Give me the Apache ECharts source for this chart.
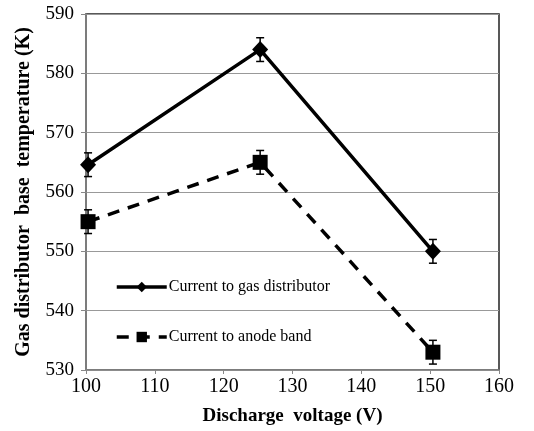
<!DOCTYPE html>
<html>
<head>
<meta charset="utf-8">
<script src="https://cdn.jsdelivr.net/npm/echarts@6/dist/echarts.min.js"></script>
<style>html,body{margin:0;padding:0;background:#fff}#c{width:534px;height:431px}</style>
</head>
<body>
<div id="c"></div>
<script>
var voltages = [100.3, 125.3, 150.4];
var gasDistributor = [564.6, 584.0, 550.0];
var gasDistributorErr = [2.0, 2.0, 2.0];
var anodeBand = [555.0, 565.0, 533.0];
var anodeBandErr = [2.0, 2.0, 2.0];
var xTicks = [100, 110, 120, 130, 140, 150, 160];
var yTicks = [530, 540, 550, 560, 570, 580, 590];
var seriesNames = ['Current to gas distributor', 'Current to anode band'];

var font = 'Liberation Serif';

function pairs(xs, ys) { return xs.map(function (x, i) { return [x, ys[i]]; }); }
function errData(xs, ys, es) { return xs.map(function (x, i) { return [x, ys[i] - es[i], ys[i] + es[i]]; }); }

function errRender(params, api) {
  var x = api.value(0);
  var lo = api.coord([x, api.value(1)]);
  var hi = api.coord([x, api.value(2)]);
  var w = 4;
  var st = { stroke: '#000', lineWidth: 1.5 };
  return {
    type: 'group',
    children: [
      { type: 'line', shape: { x1: lo[0], y1: lo[1], x2: hi[0], y2: hi[1] }, style: st },
      { type: 'line', shape: { x1: lo[0] - w, y1: lo[1], x2: lo[0] + w, y2: lo[1] }, style: st },
      { type: 'line', shape: { x1: hi[0] - w, y1: hi[1], x2: hi[0] + w, y2: hi[1] }, style: st }
    ]
  };
}

var chart = echarts.init(document.getElementById('c'), null, { renderer: 'canvas' });
chart.setOption({
  animation: false,
  backgroundColor: '#fff',
  grid: { left: 86, right: 35, top: 14, bottom: 59, show: true, borderColor: '#222', borderWidth: 1.5, backgroundColor: 'transparent' },
  legend: {
    data: seriesNames,
    orient: 'vertical',
    left: 110,
    top: 274,
    itemGap: 34,
    itemWidth: 50,
    itemHeight: 13,
    lineStyle: { width: 3.5 },
    textStyle: { fontFamily: font, fontSize: 16, color: '#000', padding: [0, 0, 0, -3] }
  },
  xAxis: {
    type: 'value',
    min: xTicks[0], max: xTicks[xTicks.length - 1], interval: 10,
    name: 'Discharge  voltage (V)',
    nameLocation: 'middle',
    nameGap: 37,
    nameTextStyle: { fontFamily: font, fontSize: 19, fontWeight: 'bold', color: '#000' },
    axisLine: { show: true, lineStyle: { color: '#888', width: 1.5 } },
    axisTick: { show: true, inside: false, length: 4, lineStyle: { color: '#888' } },
    axisLabel: { fontFamily: font, fontSize: 20, color: '#000', margin: 7 },
    splitLine: { show: false }
  },
  yAxis: {
    type: 'value',
    min: yTicks[0], max: yTicks[yTicks.length - 1], interval: 10,
    name: 'Gas distributor  base  temperature (K)',
    nameLocation: 'middle',
    nameGap: 52,
    nameTextStyle: { fontFamily: font, fontSize: 20, fontWeight: 'bold', color: '#000' },
    axisLine: { show: true, lineStyle: { color: '#888', width: 1.5 } },
    axisTick: { show: true, inside: false, length: 5, lineStyle: { color: '#888' } },
    axisLabel: { fontFamily: font, fontSize: 19, color: '#000', margin: 12 },
    splitLine: { show: true, lineStyle: { color: '#999', width: 1 } }
  },
  series: [
    {
      name: seriesNames[0], type: 'line', data: pairs(voltages, gasDistributor),
      symbol: 'diamond', symbolSize: [16, 17],
      lineStyle: { color: '#000', width: 3.5, type: 'solid' },
      itemStyle: { color: '#000' }, z: 3
    },
    {
      name: seriesNames[1], type: 'line', data: pairs(voltages, anodeBand),
      symbol: 'rect', symbolSize: 15,
      lineStyle: { color: '#000', width: 3.5, type: [12, 9] },
      itemStyle: { color: '#000' }, z: 3
    },
    {
      type: 'custom', renderItem: errRender, data: errData(voltages, gasDistributor, gasDistributorErr),
      encode: { x: 0, y: [1, 2] }, z: 4, silent: true
    },
    {
      type: 'custom', renderItem: errRender, data: errData(voltages, anodeBand, anodeBandErr),
      encode: { x: 0, y: [1, 2] }, z: 4, silent: true
    }
  ]
});
</script>
</body>
</html>
